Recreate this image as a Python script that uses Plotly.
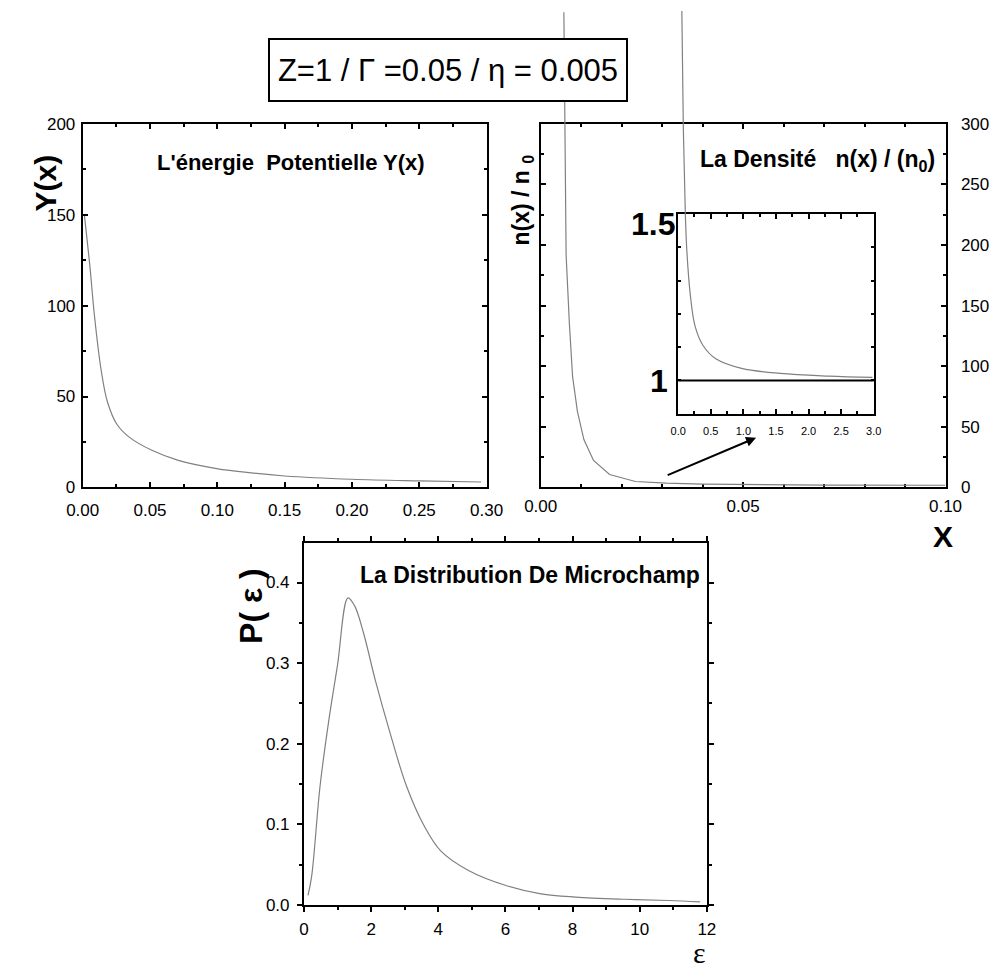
import plotly.graph_objects as go

# ---------------- data ----------------
# Panel 1 : potential energy Y(x)
pot_x = [0.0012, 0.0030, 0.0053, 0.0088, 0.0136, 0.0184, 0.0255, 0.035, 0.0518,
         0.071, 0.0995, 0.125, 0.15, 0.20, 0.25, 0.296]
pot_y = [150, 138, 122, 94, 65, 47, 34.6, 27.4, 20.3, 14.9, 10.4, 8.0, 6.3, 4.5, 3.6, 3.0]

# Panel 2 : density n(x)/n0
dens_x = [0.00573, 0.0059, 0.0061, 0.00628, 0.00709, 0.00788, 0.00907, 0.01067,
          0.01305, 0.01702, 0.0234, 0.031, 0.04, 0.05, 0.07, 0.1]
dens_y = [392, 300, 240, 192, 135, 91.5, 62.7, 39.5, 22.3, 10.7, 4.9, 3.5, 2.8, 2.4, 2.0, 1.8]

# Inset of panel 2
ins_x = [0.055, 0.08, 0.11, 0.133, 0.184, 0.258, 0.381, 0.578, 0.974, 1.567, 2.31, 2.98]
ins_y = [2.13, 1.75, 1.50, 1.39, 1.262, 1.164, 1.105, 1.065, 1.036, 1.021, 1.013, 1.009]
ins_ref = 1.0

# Panel 3 : microfield distribution P(eps)
eps = [0.12, 0.23, 0.48, 0.74, 1.0, 1.31, 1.51, 1.77, 2.13, 2.54, 3.05, 3.57, 4.08,
       4.9, 6.04, 7.06, 8.09, 9.53, 10.87, 11.8]
p_eps = [0.012, 0.036, 0.148, 0.229, 0.298, 0.381, 0.371, 0.338, 0.278, 0.217, 0.148,
         0.099, 0.067, 0.043, 0.024, 0.014, 0.010, 0.0073, 0.0057, 0.004]

pot_xticks = [0, 0.05, 0.10, 0.15, 0.20, 0.25, 0.30]
pot_xlabels = ["0.00", "0.05", "0.10", "0.15", "0.20", "0.25", "0.30"]
dens_xticks = [0, 0.05, 0.10]
dens_xlabels = ["0.00", "0.05", "0.10"]
ins_xticks = [0, 0.5, 1.0, 1.5, 2.0, 2.5, 3.0]
ins_xlabels = ["0.0", "0.5", "1.0", "1.5", "2.0", "2.5", "3.0"]
p_yticks = [0, 0.1, 0.2, 0.3, 0.4]
p_ylabels = ["0.0", "0.1", "0.2", "0.3", "0.4"]

# arrow from the main density curve to the inset
arrow_tail = (0.031, 9.7)
arrow_head = (0.0532, 41)

# ---------------- layout helpers ----------------
W, H = 1006, 971
def px(x):
    return x / W
def py(y):
    return 1 - y / H

TICKF = "Liberation Sans, Arial, sans-serif"
BOLDF = "Liberation Sans, Arial, sans-serif"
LINE = dict(color="#808080", width=1.2)

def ax(**kw):
    base = dict(showline=True, linecolor="black", linewidth=2, mirror="allticks",
                ticks="inside", ticklen=5, tickwidth=1.5, tickcolor="black",
                showgrid=False, zeroline=False,
                tickfont=dict(family=TICKF, size=17, color="black"))
    base.update(kw)
    return base

fig = go.Figure()

fig.add_trace(go.Scatter(x=pot_x, y=pot_y, mode="lines", line=LINE, line_shape="spline",
                         xaxis="x", yaxis="y", showlegend=False))
fig.add_trace(go.Scatter(x=dens_x, y=dens_y, mode="lines", line=LINE,
                         xaxis="x5", yaxis="y5", showlegend=False))
fig.add_trace(go.Scatter(x=ins_x, y=ins_y, mode="lines", line=LINE, line_shape="spline",
                         xaxis="x6", yaxis="y6", showlegend=False))
fig.add_trace(go.Scatter(x=eps, y=p_eps, mode="lines", line=LINE, line_shape="spline",
                         xaxis="x4", yaxis="y4", showlegend=False))

# pixel geometry
P1 = (68, 486, 117, 488)
P2 = (542, 961, 117, 488)
INS = (684.3, 886.7, 209.3, 412.7)
P3 = (297, 714, 545, 914)
TOP_EXT = 2

dens_range = [0, 300]
dens_xrange = [0, 0.10]
ins_range = [0.9, 1.5]
ins_xrange = [0, 3.0]
dens_ext = (P2[3] - TOP_EXT) / (P2[3] - P2[2]) * (dens_range[1] - dens_range[0])
ins_ext = ins_range[0] + (INS[3] - TOP_EXT) / (INS[3] - INS[2]) * (ins_range[1] - ins_range[0])

minor_in = lambda d: dict(dtick=d, ticks="inside", ticklen=3, tickcolor="black")
minor_out = lambda d: dict(dtick=d, ticks="outside", ticklen=3, tickcolor="black")

fig.update_layout(
    width=W, height=H, margin=dict(l=0, r=0, t=0, b=0),
    paper_bgcolor="white", plot_bgcolor="rgba(0,0,0,0)",
    xaxis=ax(domain=[px(P1[0]), px(P1[1])], range=[0, 0.30], anchor="y",
             tickvals=pot_xticks, ticktext=pot_xlabels, ticklabelstandoff=6,
             minor=minor_in(0.025)),
    yaxis=ax(domain=[py(P1[3]), py(P1[2])], range=[0, 200], anchor="x",
             dtick=50, ticklabelstandoff=2, minor=minor_in(25)),
    xaxis2=ax(domain=[px(P2[0]), px(P2[1])], range=dens_xrange, anchor="y2",
              tickvals=dens_xticks, ticktext=dens_xlabels, ticklabelstandoff=2,
              minor=minor_in(0.01)),
    yaxis2=ax(domain=[py(P2[3]), py(P2[2])], range=dens_range, anchor="x2", side="right",
              dtick=50, ticklabelstandoff=10, minor=minor_in(25)),
    xaxis5=dict(domain=[px(P2[0]), px(P2[1])], range=dens_xrange, anchor="y5", visible=False),
    yaxis5=dict(domain=[py(P2[3]), py(TOP_EXT)], range=[0, dens_ext], anchor="x5",
                visible=False),
    xaxis3=ax(domain=[px(INS[0]), px(INS[1])], range=ins_xrange, anchor="y3",
              tickvals=ins_xticks, ticktext=ins_xlabels, ticklabelstandoff=6,
              tickfont=dict(family=TICKF, size=11, color="black"),
              minor=minor_in(0.25)),
    yaxis3=ax(domain=[py(INS[3]), py(INS[2])], range=ins_range, anchor="x3",
              dtick=0.1, showticklabels=False, ticklen=3),
    xaxis6=dict(domain=[px(INS[0]), px(INS[1])], range=ins_xrange, anchor="y6", visible=False),
    yaxis6=dict(domain=[py(INS[3]), py(TOP_EXT)], range=[ins_range[0], ins_ext], anchor="x6",
                visible=False),
    xaxis4=ax(domain=[px(P3[0]), px(P3[1])], range=[0, 12], anchor="y4",
              dtick=2, ticklabelstandoff=2, ticks="outside", minor=minor_out(1)),
    yaxis4=ax(domain=[py(P3[3]), py(P3[2])], range=[0, 0.4486], anchor="x4",
              tickvals=p_yticks, ticktext=p_ylabels,
              ticklabelstandoff=4, ticks="outside", minor=minor_out(0.05)),
)

# white background inside the inset
fig.add_shape(type="rect", xref="x3 domain", yref="y3 domain", x0=0, x1=1, y0=0, y1=1,
              fillcolor="white", line=dict(width=0), layer="below")
fig.add_shape(type="line", xref="x3 domain", yref="y3", x0=0, x1=1, y0=ins_ref, y1=ins_ref,
              line=dict(color="black", width=2))

ann = []
def text(x, y, t, size, bold=True, angle=0, xanchor="center", yanchor="middle",
         family=BOLDF, pad=1):
    ann.append(dict(x=px(x), y=py(y), xref="paper", yref="paper", text=t, showarrow=False,
                    textangle=angle, xanchor=xanchor, yanchor=yanchor, borderpad=pad,
                    font=dict(family=family, size=size, color="black",
                              weight="bold" if bold else "normal")))

text(284, 157, "L'énergie  Potentielle Y(x)", 22)
text(828, 155, "La Densité   n(x) / (n<sub>0</sub>)", 23)
text(531, 577, "La Distribution De Microchamp", 23)
text(30, 177, "Y(x)", 30, angle=-90)
text(523, 195, "n(x) / n <sub>0</sub>", 23, angle=-90)
text(242, 609, "P( ε )", 32, angle=-90)
text(958, 538, "X", 30)
text(706, 962, "ε", 30, bold=False, pad=0,
     family="Liberation Serif, DejaVu Serif, serif")
text(683, 219, "1.5", 32, xanchor="right")
text(676, 379, "1", 32, xanchor="right")

ann.append(dict(x=px(446), y=py(62), xref="paper", yref="paper",
                xanchor="center", yanchor="middle",
                text="Z=1 / Γ =0.05 / η = 0.005", showarrow=False,
                font=dict(family="Liberation Sans, Arial, sans-serif", size=31, color="black"),
                width=352, height=56, borderpad=2,
                bordercolor="black", borderwidth=2, bgcolor="white"))

ann.append(dict(x=arrow_head[0], y=arrow_head[1], xref="x2", yref="y2",
                ax=arrow_tail[0], ay=arrow_tail[1], axref="x2", ayref="y2",
                showarrow=True, arrowhead=2, arrowsize=1, arrowwidth=2, arrowcolor="black",
                text=""))

fig.update_layout(annotations=ann)
fig.write_html("out.html")
